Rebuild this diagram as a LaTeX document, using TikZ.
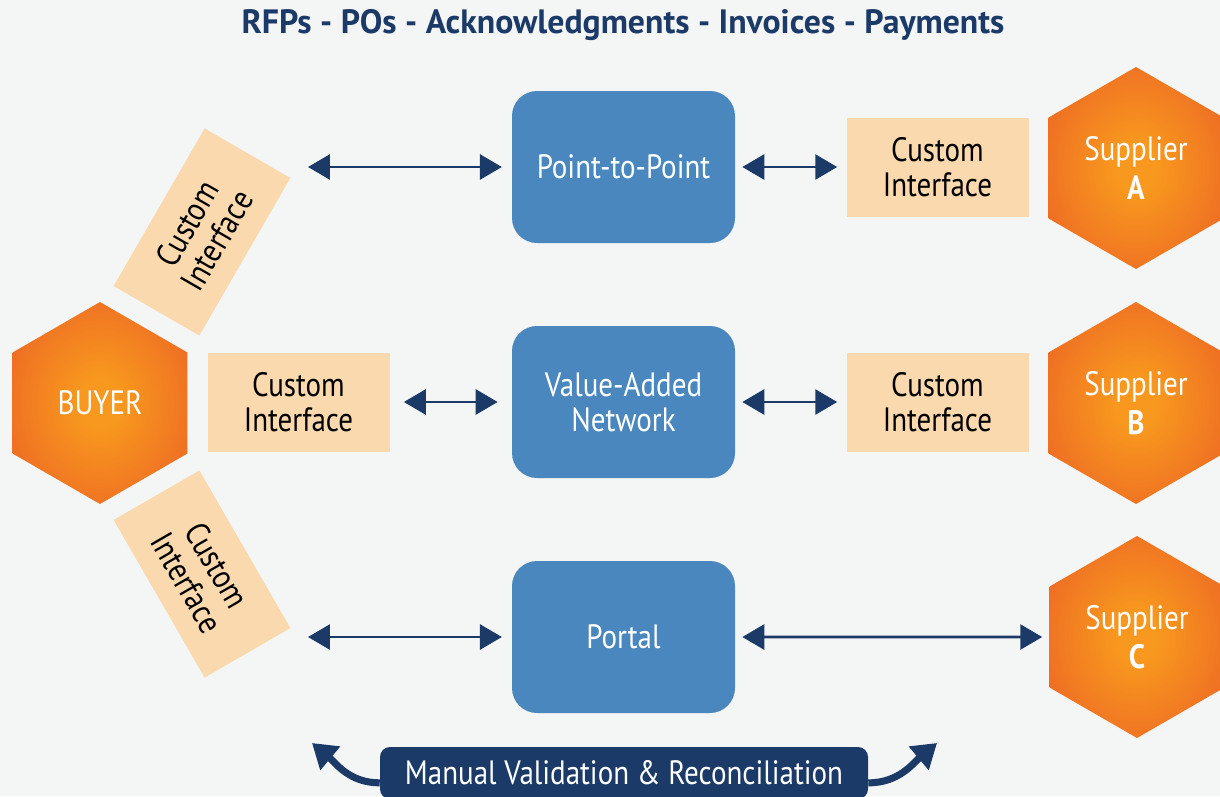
\documentclass[tikz,border=0pt]{standalone}
\usepackage{fontspec}
\setmainfont[FakeStretch=0.86]{PT Sans}
\newfontfamily\titlefont{PT Sans}
\usetikzlibrary{shapes.geometric,arrows.meta}
\newdimen\pxd \pxd=0.025cm
\definecolor{navy}{RGB}{27,58,104}
\definecolor{boxblue}{RGB}{74,135,190}
\definecolor{tan}{RGB}{250,217,174}
\definecolor{hexin}{RGB}{248,152,30}
\definecolor{hexout}{RGB}{234,92,38}
\definecolor{bgcol}{RGB}{244,245,245}
\pgfdeclareradialshading{hexshade}{\pgfpoint{0bp}{0bp}}{color(0bp)=(hexin); color(6bp)=(hexin); color(38bp)=(hexout); color(50bp)=(hexout)}
\tikzset{
  lbl/.style={font=\fontsize{24}{24.5}\selectfont, align=center},
  hexnode/.style={regular polygon, regular polygon sides=6, shape border rotate=30,
    minimum size=202\pxd, inner sep=0pt, shading=hexshade, text=white, lbl,
    font=\fontsize{24}{28}\selectfont},
  bluebox/.style={rectangle, rounded corners=25\pxd, fill=boxblue, text=white,
    minimum width=223\pxd, minimum height=152\pxd, inner sep=0pt, lbl},
  cibox/.style={rectangle, fill=tan, text=black, minimum width=182\pxd,
    minimum height=99\pxd, inner sep=0pt, lbl},
  dar/.style={draw=navy, line width=2.1pt,
    arrows={Triangle[length=15.6pt,width=17.7pt]-Triangle[length=15.6pt,width=17.7pt]}},
  curvar/.style={draw=navy, line width=5pt,
    arrows={-Triangle[length=17pt,width=21pt]}},
  banner/.style={rectangle, rounded corners=10\pxd, fill=navy, text=white,
    minimum width=488\pxd, minimum height=52\pxd, inner sep=0pt, lbl}
}
\begin{document}
\begin{tikzpicture}[x=0.025cm, y=-0.025cm]
\useasboundingbox (0,0) rectangle (1220,796);
\fill[bgcol] (0,0) rectangle (1220,796);
% title
\node[font=\titlefont\bfseries\fontsize{24}{28}\selectfont, text=navy] (title) at (623,25)
  {RFPs - POs - Acknowledgments - Invoices - Payments};
% hexagons
\node[hexnode] (buyer) at (100,403) {BUYER};
\node[hexnode] (supA) at (1136,168) {Supplier\\\textbf{A}};
\node[hexnode] (supB) at (1136,403) {Supplier\\\textbf{B}};
\node[hexnode] (supC) at (1137,637) {Supplier\\\textbf{C}};
% blue boxes
\node[bluebox] (p2p) at (623.5,167) {Point-to-Point};
\node[bluebox] (van) at (623.5,402) {Value-Added\\Network};
\node[bluebox] (portal) at (623.5,637) {Portal};
% custom interface boxes
\node[cibox] (ciA) at (937.5,167) {Custom\\Interface};
\node[cibox] (ciB) at (937.5,402) {Custom\\Interface};
\node[cibox] (ciL) at (298.5,402) {Custom\\Interface};
\node[cibox, rotate=60] (ciT) at (202,232) {Custom\\Interface};
\node[cibox, rotate=-60] (ciD) at (202,574) {Custom\\Interface};
% connectors
\coordinate (a1) at (308,167);
\coordinate (a3) at (308,637);
\draw[dar, shorten >=7pt] (a1) -- (p2p.west);
\draw[dar, shorten <=5pt, shorten >=6.4pt] (p2p.east) -- (ciA.west);
\draw[dar, shorten <=10pt, shorten >=10pt] (ciL.east) -- (van.west);
\draw[dar, shorten <=5pt, shorten >=6.4pt] (van.east) -- (ciB.west);
\draw[dar, shorten >=7pt] (a3) -- (portal.west);
\draw[dar, shorten <=5pt, shorten >=5pt] (portal.east) -- (supC.west);
% banner
\node[banner] (mvr) at (624,773) {Manual Validation \& Reconciliation};
\coordinate (tl) at (312,743);
\coordinate (tr) at (937,743);
\draw[curvar] ([yshift=-7pt]mvr.west) to[out=180, in=-40] (tl);
\draw[curvar] ([yshift=-7pt]mvr.east) to[out=0, in=-140] (tr);
\end{tikzpicture}
\end{document}
